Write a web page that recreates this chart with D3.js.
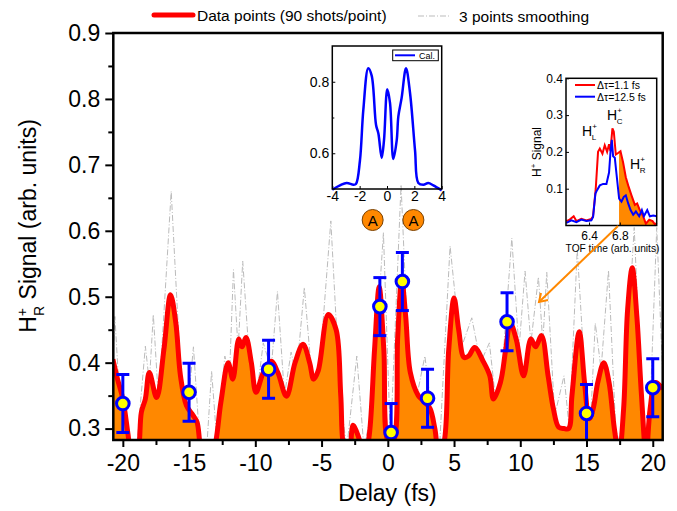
<!DOCTYPE html>
<html>
<head>
<meta charset="utf-8">
<script src="https://cdn.jsdelivr.net/npm/d3@7"></script>
<style>
  body { margin: 0; background: #fff; }
  text { font-family: "Liberation Sans", Arial, sans-serif; fill: #000; }
</style>
</head>
<body>
<svg width="677" height="511"></svg>
<script>
// main trace: delay (fs) vs H+R signal
const redDelay = [-20.75, -20.4, -20.0, -19.6, -19.3, -18.9, -18.6, -18.3, -18.0, -17.45, -16.9, -16.4, -16.0, -15.65, -15.2, -14.7, -14.4, -14.1, -13.6, -13.1,
  -12.6, -12.05, -11.7, -11.25, -11.0, -10.7, -10.3, -9.95, -9.4, -8.8, -8.3, -7.65, -7.0, -6.4, -5.9, -5.6, -5.25, -4.5, -3.9, -3.55,
  -3.3, -2.95, -2.62, -2.35, -2.1, -1.8, -1.4, -1.0, -0.65, -0.3, 0.05, 0.4, 0.75, 1.05, 1.35, 1.7, 2.3, 2.8, 3.2, 3.55,
  3.85, 4.2, 4.6, 5.0, 5.35, 5.75, 6.1, 6.55, 7.2, 7.7, 7.97, 8.5, 8.9, 9.25, 9.7, 10.25, 10.8, 11.15, 11.6, 12.1,
  12.5, 12.9, 13.3, 13.65, 13.9, 14.45, 14.85, 15.2, 15.5, 15.85, 16.3, 16.7, 17.1, 17.45, 17.8, 18.1, 18.45, 18.8, 19.15, 19.5,
  19.8, 20.2, 20.75]
const redSignal = [0.405, 0.375, 0.345, 0.29, 0.25, 0.26, 0.325, 0.345, 0.385, 0.347, 0.42, 0.503, 0.46, 0.38, 0.335, 0.32, 0.31, 0.27, 0.25, 0.27,
  0.34, 0.40, 0.375, 0.436, 0.424, 0.438, 0.40, 0.355, 0.385, 0.402, 0.385, 0.349, 0.40, 0.428, 0.40, 0.375, 0.388, 0.473, 0.45, 0.35,
  0.27, 0.26, 0.305, 0.295, 0.28, 0.25, 0.29, 0.42, 0.515, 0.42, 0.28, 0.28, 0.44, 0.526, 0.47, 0.385, 0.35, 0.34, 0.33, 0.30,
  0.265, 0.275, 0.42, 0.498, 0.45, 0.408, 0.41, 0.423, 0.402, 0.38, 0.345, 0.37, 0.42, 0.46, 0.435, 0.38, 0.436, 0.424, 0.441, 0.38,
  0.33, 0.302, 0.30, 0.30, 0.35, 0.447, 0.37, 0.315, 0.33, 0.37, 0.40, 0.37, 0.30, 0.26, 0.33, 0.48, 0.544, 0.47, 0.35, 0.26,
  0.33, 0.37, 0.36]

// 3 points smoothing (gray dash-dot)
const grayDelay = [-20.75, -20.6, -20.2, -19.6, -19.0, -18.3, -18.0, -17.7, -17.3, -16.35, -15.6, -15.1, -14.67, -14.2, -13.7, -13.3, -12.9, -12.3, -11.95, -11.65,
  -11.3, -10.95, -10.4, -9.9, -9.4, -8.8, -8.33, -7.8, -7.3, -6.9, -6.3, -5.7, -5.2, -4.3, -3.6, -3.1, -2.34, -1.8, -1.2, -0.33,
  0.2, 1.0, 1.6, 2.2, 2.8, 3.4, 3.9, 4.7, 5.5, 6.34, 7.0, 7.67, 8.1, 8.6, 9.36, 9.9, 10.36, 10.8, 11.37, 11.7,
  12.0, 12.6, 13.3, 13.7, 14.3, 14.9, 15.3, 15.66, 16.1, 16.66, 17.2, 17.6, 18.6, 19.3, 19.8, 20.3, 20.75]
const graySignal = [0.40, 0.47, 0.33, 0.27, 0.26, 0.425, 0.37, 0.473, 0.34, 0.66, 0.37, 0.33, 0.424, 0.28, 0.26, 0.387, 0.28, 0.41, 0.38, 0.541,
  0.42, 0.554, 0.39, 0.35, 0.43, 0.39, 0.508, 0.35, 0.416, 0.38, 0.514, 0.37, 0.38, 0.615, 0.35, 0.27, 0.41, 0.27, 0.33, 0.597,
  0.28, 0.67, 0.39, 0.35, 0.41, 0.31, 0.27, 0.577, 0.42, 0.468, 0.40, 0.43, 0.35, 0.38, 0.589, 0.42, 0.539, 0.43, 0.53, 0.43,
  0.537, 0.32, 0.38, 0.30, 0.572, 0.37, 0.31, 0.46, 0.39, 0.54, 0.30, 0.27, 0.605, 0.28, 0.33, 0.605, 0.38]

// markers with error bars
const markDelay = [-20, -15, -9, -0.6, 0.25, 1.1, 3, 9, 15, 20]
const markSignal = [0.338, 0.355, 0.390, 0.485, 0.294, 0.523, 0.346, 0.462, 0.323, 0.362]
const markErr = [0.044, 0.044, 0.044, 0.044, 0.044, 0.044, 0.044, 0.044, 0.044, 0.044]

const xTicks = [-20, -15, -10, -5, 0, 5, 10, 15, 20]
const xMinor = [-17.5, -12.5, -7.5, -2.5, 2.5, 7.5, 12.5, 17.5]
const yTicks = [0.3, 0.4, 0.5, 0.6, 0.7, 0.8, 0.9]
const yMinor = [0.35, 0.45, 0.55, 0.65, 0.75, 0.85]

// inset 1: calculation
const calX = [-4, -3.44, -2.95, -2.46, -2.27, -1.98, -1.73, -1.37, -1.12, -0.8, -0.63, -0.39, -0.22, 0.02, 0.22, 0.46, 0.71, 0.83, 1.07, 1.39,
  1.68, 2.05, 2.29, 2.66, 3.02, 3.39, 4]
const calY = [0.498, 0.51, 0.517, 0.512, 0.514, 0.579, 0.722, 0.838, 0.817, 0.679, 0.655, 0.587, 0.636, 0.779, 0.741, 0.584, 0.636, 0.703, 0.755, 0.838,
  0.77, 0.608, 0.517, 0.512, 0.517, 0.51, 0.496]
const calXTicks = [-4, -2, 0, 2, 4]
const calYTicks = [0.6, 0.8]

// inset 2: TOF spectra
const tofRedX = [6.104, 6.148, 6.2, 6.235, 6.3, 6.365, 6.43, 6.452, 6.487, 6.517, 6.54, 6.574, 6.604, 6.635, 6.66, 6.678, 6.704, 6.722, 6.748, 6.778,
  6.809, 6.843, 6.878, 6.909, 6.952, 6.996, 7.026, 7.06, 7.104, 7.139, 7.183, 7.226, 7.257, 7.28]
const tofRedY = [0.012, 0.016, 0.025, 0.012, 0.018, 0.014, 0.018, 0.025, 0.1, 0.2, 0.209, 0.195, 0.218, 0.2, 0.221, 0.202, 0.264, 0.255, 0.193, 0.197,
  0.202, 0.171, 0.131, 0.109, 0.082, 0.056, 0.06, 0.042, 0.025, 0.005, 0.016, 0.012, 0.003, 0.007]
const tofBlueX = [6.104, 6.17, 6.235, 6.3, 6.365, 6.43, 6.452, 6.483, 6.504, 6.54, 6.583, 6.626, 6.66, 6.678, 6.696, 6.713, 6.735, 6.757, 6.791, 6.822,
  6.852, 6.878, 6.909, 6.94, 6.974, 7.009, 7.052, 7.087, 7.113, 7.157, 7.191, 7.235, 7.28]
const tofBlueY = [0.007, 0.014, 0.009, 0.016, 0.012, 0.014, 0.023, 0.087, 0.096, 0.109, 0.113, 0.113, 0.144, 0.197, 0.233, 0.188, 0.184, 0.14, 0.073, 0.065,
  0.078, 0.082, 0.06, 0.042, 0.029, 0.038, 0.025, 0.042, 0.025, 0.042, 0.025, 0.027, 0.025]
const tofXTicks = [6.4, 6.8]
const tofYTicks = [0.1, 0.2, 0.3, 0.4]

const ORANGE = "#ff8800"

var svg = d3.select("svg")

var pLeft = 113.3, pRight = 662.7, pTop = 33, pBottom = 440
var yMin = 0.2827

var x = d3.scaleLinear().domain([-20.72, 20.75]).range([pLeft, pRight])
var y = d3.scaleLinear().domain([yMin, 0.9]).range([pBottom, pTop])

function plain(d) { return String(d) }
function oneDec(d) { return d.toFixed(1) }

svg.append("defs").append("clipPath").attr("id", "plotclip")
  .append("rect").attr("x", pLeft).attr("y", pTop).attr("width", pRight - pLeft).attr("height", pBottom - pTop)

var plot = svg.append("g").attr("clip-path", "url(#plotclip)")

// gray smoothing line
plot.append("path")
  .datum(d3.zip(grayDelay, graySignal))
  .attr("fill", "none")
  .attr("stroke", "#bbbbbb")
  .attr("stroke-width", 1)
  .attr("stroke-dasharray", "6,2,1,2")
  .attr("d", d3.line().x(d => x(d[0])).y(d => y(d[1])))

var redData = d3.zip(redDelay, redSignal)
var smooth = d3.curveCatmullRom.alpha(0.5)

plot.append("path")
  .datum(redData)
  .attr("fill", ORANGE)
  .attr("d", d3.area().curve(smooth).x(d => x(d[0])).y0(pBottom + 5).y1(d => y(d[1])))

plot.append("path")
  .datum(redData)
  .attr("fill", "none")
  .attr("stroke", "#ff0000")
  .attr("stroke-width", 5)
  .attr("stroke-linejoin", "round")
  .attr("d", d3.line().curve(smooth).x(d => x(d[0])).y(d => y(d[1])))

// error bars
var marks = d3.zip(markDelay, markSignal, markErr)
var bars = plot.append("g").selectAll("g").data(marks).enter().append("g")
bars.append("line")
  .attr("x1", d => x(d[0])).attr("x2", d => x(d[0]))
  .attr("y1", d => y(d[1] - d[2])).attr("y2", d => y(d[1] + d[2]))
  .attr("stroke", "#0000ff").attr("stroke-width", 3)
bars.selectAll(".cap").data(d => [[d[0], d[1] - d[2]], [d[0], d[1] + d[2]]]).enter().append("line")
  .attr("x1", d => x(d[0]) - 6.5).attr("x2", d => x(d[0]) + 6.5)
  .attr("y1", d => y(d[1])).attr("y2", d => y(d[1]))
  .attr("stroke", "#0000ff").attr("stroke-width", 3)

svg.append("g").selectAll("circle").data(marks).enter().append("circle")
  .attr("cx", d => x(d[0])).attr("cy", d => y(d[1])).attr("r", 6.3)
  .attr("fill", "#ffff00").attr("stroke", "#0000ff").attr("stroke-width", 3)

// axes
function styleAxis(g, size) {
  g.select(".domain").remove()
  g.selectAll(".tick line").attr("stroke", "#000").attr("stroke-width", 2)
  g.selectAll(".tick text").style("font-size", size + "px").attr("fill", "#000")
    .style("font-family", "'Liberation Sans', Arial, sans-serif")
}

svg.append("g").attr("transform", "translate(" + pLeft + ",0)")
  .call(d3.axisLeft(y).tickValues(yTicks).tickSize(8).tickPadding(5).tickFormat(oneDec))
  .call(g => styleAxis(g, 23))
svg.append("g").attr("transform", "translate(" + pLeft + ",0)")
  .call(d3.axisLeft(y).tickValues(yMinor).tickSize(5).tickFormat(""))
  .call(g => styleAxis(g, 23))

svg.append("g").attr("transform", "translate(0," + pBottom + ")")
  .call(d3.axisBottom(x).tickValues(xTicks).tickSize(7).tickPadding(8).tickFormat(plain))
  .call(g => styleAxis(g, 23))
svg.append("g").attr("transform", "translate(0," + pBottom + ")")
  .call(d3.axisBottom(x).tickValues(xMinor).tickSize(5).tickFormat(""))
  .call(g => styleAxis(g, 23))

svg.append("rect")
  .attr("x", pLeft).attr("y", pTop).attr("width", pRight - pLeft).attr("height", pBottom - pTop)
  .attr("fill", "none").attr("stroke", "#000").attr("stroke-width", 2.5)

svg.append("text").attr("x", (pLeft + pRight) / 2 - 0.5).attr("y", 501)
  .attr("text-anchor", "middle").style("font-size", "23px").text("Delay (fs)")

var ylab = svg.append("text").attr("transform", "translate(36,226) rotate(-90)")
  .attr("text-anchor", "middle").style("font-size", "23px")
ylab.append("tspan").text("H")
ylab.append("tspan").attr("dy", -9).style("font-size", "14px").text("+")
ylab.append("tspan").attr("dx", -8).attr("dy", 17).style("font-size", "14px").text("R")
ylab.append("tspan").attr("dy", -8).text(" Signal (arb. units)")

// legend
svg.append("line").attr("x1", 154).attr("x2", 193).attr("y1", 15).attr("y2", 15)
  .attr("stroke", "#ff0000").attr("stroke-width", 5).attr("stroke-linecap", "round")
svg.append("text").attr("x", 197).attr("y", 20.5).style("font-size", "15.5px").text("Data points (90 shots/point)")
svg.append("line").attr("x1", 418).attr("x2", 451).attr("y1", 16).attr("y2", 16)
  .attr("stroke", "#bbbbbb").attr("stroke-width", 1).attr("stroke-dasharray", "6,2,1,2")
svg.append("text").attr("x", 459).attr("y", 21.5).style("font-size", "15.5px").text("3 points smoothing")

// inset 1
var cx = d3.scaleLinear().domain([-4, 4]).range([332.3, 441.7])
var cy = d3.scaleLinear().domain([0.5, 0.9]).range([189, 46])
var inset1 = svg.append("g")
inset1.append("g").attr("transform", "translate(332.3,0)")
  .call(d3.axisLeft(cy).tickValues(calYTicks).tickSize(-3).tickPadding(3).tickFormat(oneDec))
  .call(g => styleAxis(g, 14))
inset1.append("g").attr("transform", "translate(332.3,0)")
  .call(d3.axisLeft(cy).tickValues([0.7]).tickSize(-2).tickFormat(""))
  .call(g => styleAxis(g, 14))
inset1.append("g").attr("transform", "translate(0,189)")
  .call(d3.axisBottom(cx).tickValues(calXTicks).tickSize(-3).tickPadding(2).tickFormat(plain))
  .call(g => styleAxis(g, 14))
inset1.selectAll(".tick line").attr("stroke-width", 1)
inset1.append("path")
  .datum(d3.zip(calX, calY))
  .attr("fill", "none").attr("stroke", "#0000ff").attr("stroke-width", 2.5)
  .attr("d", d3.line().curve(d3.curveCatmullRom.alpha(0.5)).x(d => cx(d[0])).y(d => cy(d[1])))
inset1.append("rect").attr("x", 332.3).attr("y", 46).attr("width", 109.4).attr("height", 143)
  .attr("fill", "none").attr("stroke", "#000").attr("stroke-width", 1.5)
inset1.append("rect").attr("x", 392.7).attr("y", 50).attr("width", 45.6).attr("height", 10.7)
  .attr("fill", "#fff").attr("stroke", "#000").attr("stroke-width", 1)
inset1.append("line").attr("x1", 395).attr("x2", 415).attr("y1", 55.3).attr("y2", 55.3)
  .attr("stroke", "#0000ff").attr("stroke-width", 2)
inset1.append("text").attr("x", 419).attr("y", 58.8).style("font-size", "9px").text("Cal.")

var badges = [[-1.05, 220], [1.93, 220]]
badges.forEach(function(b) {
  inset1.append("circle").attr("cx", cx(b[0])).attr("cy", b[1]).attr("r", 10.5)
    .attr("fill", ORANGE).attr("stroke", "#7a4000").attr("stroke-width", 1)
  inset1.append("text").attr("x", cx(b[0])).attr("y", b[1] + 5.5).attr("text-anchor", "middle")
    .style("font-size", "15px").text("A")
})

// inset 2
var tx = d3.scaleLinear().domain([6.1, 7.28]).range([566, 656.7])
var ty = d3.scaleLinear().domain([0, 0.4]).range([225.5, 78.3])
var inset2 = svg.append("g")
inset2.append("clipPath").attr("id", "tofclip")
  .append("rect").attr("x", tx(6.79)).attr("y", 78.3).attr("width", 656.7 - tx(6.79)).attr("height", 147.2)
inset2.append("path")
  .datum(d3.zip(tofRedX, tofRedY))
  .attr("clip-path", "url(#tofclip)")
  .attr("fill", ORANGE)
  .attr("d", d3.area().x(d => tx(d[0])).y0(ty(0)).y1(d => ty(d[1])))
inset2.append("path")
  .datum(d3.zip(tofRedX, tofRedY))
  .attr("fill", "none").attr("stroke", "#ff0000").attr("stroke-width", 2)
  .attr("d", d3.line().x(d => tx(d[0])).y(d => ty(d[1])))
inset2.append("path")
  .datum(d3.zip(tofBlueX, tofBlueY))
  .attr("fill", "none").attr("stroke", "#0000ff").attr("stroke-width", 2)
  .attr("d", d3.line().x(d => tx(d[0])).y(d => ty(d[1])))
inset2.append("g").attr("transform", "translate(566,0)")
  .call(d3.axisLeft(ty).tickValues(tofYTicks).tickSize(-3).tickPadding(3).tickFormat(oneDec))
  .call(g => styleAxis(g, 12))
inset2.append("g").attr("transform", "translate(0,225.5)")
  .call(d3.axisBottom(tx).tickValues(tofXTicks).tickSize(-3).tickPadding(6).tickFormat(oneDec))
  .call(g => styleAxis(g, 12))
inset2.selectAll(".tick line").attr("stroke-width", 1)
inset2.append("rect").attr("x", 566).attr("y", 78.3).attr("width", 90.7).attr("height", 147.2)
  .attr("fill", "none").attr("stroke", "#000").attr("stroke-width", 1.5)

inset2.append("line").attr("x1", 575).attr("x2", 595).attr("y1", 85).attr("y2", 85)
  .attr("stroke", "#ff0000").attr("stroke-width", 2)
inset2.append("text").attr("x", 597).attr("y", 88.8).style("font-size", "10.5px").text("\u0394\u03c4=1.1 fs")
inset2.append("line").attr("x1", 575).attr("x2", 595).attr("y1", 96.7).attr("y2", 96.7)
  .attr("stroke", "#0000ff").attr("stroke-width", 2)
inset2.append("text").attr("x", 597).attr("y", 100.5).style("font-size", "10.5px").text("\u0394\u03c4=12.5 fs")

function ion(g, px, py, sub) {
  var t = g.append("text").attr("x", px).attr("y", py).style("font-size", "14px")
  t.append("tspan").text("H")
  t.append("tspan").attr("dy", -7).style("font-size", "8px").text("+")
  t.append("tspan").attr("dx", -5).attr("dy", 11).style("font-size", "8px").text(sub)
}
ion(inset2, 582, 136, "L")
ion(inset2, 607, 120, "C")
ion(inset2, 630, 169, "R")

var tylab = inset2.append("text").attr("transform", "translate(541,152) rotate(-90)")
  .attr("text-anchor", "middle").style("font-size", "12px")
tylab.append("tspan").text("H")
tylab.append("tspan").attr("dy", -5).style("font-size", "8px").text("+")
tylab.append("tspan").attr("dy", 5).text(" Signal")

inset2.append("text").attr("x", 612.5).attr("y", 251.5).attr("text-anchor", "middle")
  .style("font-size", "10.2px").text("TOF time (arb. units)")

// arrow from inset to main trace
svg.append("line").attr("x1", 618).attr("y1", 226).attr("x2", 539).attr("y2", 302)
  .attr("stroke", ORANGE).attr("stroke-width", 2)
svg.append("path").attr("d", "M541,293 L539,302 L548,300")
  .attr("fill", "none").attr("stroke", ORANGE).attr("stroke-width", 2)
</script>
</body>
</html>
